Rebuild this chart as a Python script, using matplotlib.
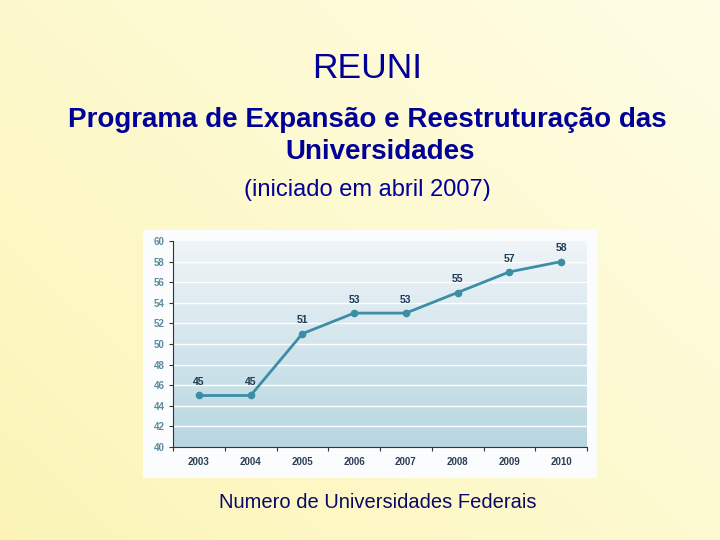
import numpy as np
import matplotlib
matplotlib.use("Agg")
import matplotlib.pyplot as plt

anos = ["2003", "2004", "2005", "2006", "2007", "2008", "2009", "2010"]
universidades = [45, 45, 51, 53, 53, 55, 57, 58]
y_ticks = [40, 42, 44, 46, 48, 50, 52, 54, 56, 58, 60]

plt.rcParams['font.family'] = ['Liberation Sans', 'DejaVu Sans']

fig = plt.figure(figsize=(7.2, 5.4), dpi=100)

# slide background, yellow gradient
bg = fig.add_axes([0, 0, 1, 1])
gx, gy = np.meshgrid(np.linspace(0, 1, 200), np.linspace(0, 1, 200))
t = np.clip(0.55 * gx + 0.45 * gy, 0, 1)
c0 = np.array([0.99, 0.96, 0.72])
c1 = np.array([1.0, 0.995, 0.90])
img = c0[None, None, :] * (1 - t[..., None]) + c1[None, None, :] * t[..., None]
bg.imshow(img, origin="lower", extent=[0, 1, 0, 1], aspect="auto")
bg.set_xlim(0, 1)
bg.set_ylim(0, 1)
bg.axis("off")

W, H = 720, 540
def fx(px):
    return px / W
def fy(py):
    return 1 - py / H

# white panel behind the chart
panel = fig.add_axes([fx(143), fy(478), fx(597) - fx(143), fy(230) - fy(478)])
panel.set_facecolor("#fbfcfd")
panel.set_xticks([])
panel.set_yticks([])
for s in panel.spines.values():
    s.set_visible(False)

# titles
fig.text(fx(367), fy(68), "REUNI", ha="center", va="center",
         fontsize=25.5, color="#000099")
fig.text(fx(367), fy(120), "Programa de Expansão e Reestruturação das",
         ha="center", va="center", fontsize=20, fontweight="bold", color="#000099")
fig.text(fx(380), fy(152), "Universidades", ha="center", va="center",
         fontsize=20, fontweight="bold", color="#000099")
fig.text(fx(367), fy(190), "(iniciado em abril 2007)", ha="center", va="center",
         fontsize=17, color="#000099")
fig.text(fx(378), fy(502), "Numero de Universidades Federais", ha="center",
         va="center", fontsize=14.5, color="#0a0a66")

# chart
ax = fig.add_axes([fx(173), fy(447), fx(587) - fx(173), fy(241) - fy(447)])
ax.set_xlim(-0.5, len(anos) - 0.5)
ax.set_ylim(40, 60)

grad = np.linspace(0, 1, 256)[:, None]
top = np.array([0.94, 0.96, 0.975])
bot = np.array([0.72, 0.84, 0.88])
gimg = bot[None, None, :] * (1 - grad[..., None]) + top[None, None, :] * grad[..., None]
ax.imshow(gimg, origin="lower", extent=[-0.5, len(anos) - 0.5, 40, 60],
          aspect="auto", zorder=0)

for yv in y_ticks[1:-1]:
    ax.axhline(yv, color="white", lw=1.0, zorder=1)

x = np.arange(len(anos))
ax.plot(x, universidades, color="#3b8ea6", lw=2, marker="o", ms=4.5,
        markerfacecolor="#3b8ea6", zorder=3)
for xi, v in zip(x, universidades):
    ax.text(xi, v + 0.8, str(v), ha="center", va="bottom", fontsize=7.5,
            fontweight="bold", color="#1f3b57", zorder=4)

ax.set_yticks(y_ticks)
ax.set_yticklabels([str(v) for v in y_ticks], fontsize=7, color="#5a8a9c",
                   fontweight="bold")
ax.set_xticks(np.arange(-0.5, len(anos), 1.0), minor=False)
ax.set_xticklabels([])
ax.set_xticks(x, minor=True)
ax.set_xticklabels(anos, minor=True, fontsize=7, color="#2a3f55", fontweight="bold")
ax.tick_params(axis="x", which="minor", length=0, pad=7)
ax.tick_params(axis="x", which="major", length=3, color="#333333", direction="out")
ax.tick_params(axis="y", length=3, color="#333333", pad=3)

for s in ["top", "right"]:
    ax.spines[s].set_visible(False)
ax.spines["left"].set_color("#333333")
ax.spines["bottom"].set_color("#333333")
ax.spines["left"].set_linewidth(0.8)
ax.spines["bottom"].set_linewidth(0.8)

fig.savefig("out.png", dpi=100)
